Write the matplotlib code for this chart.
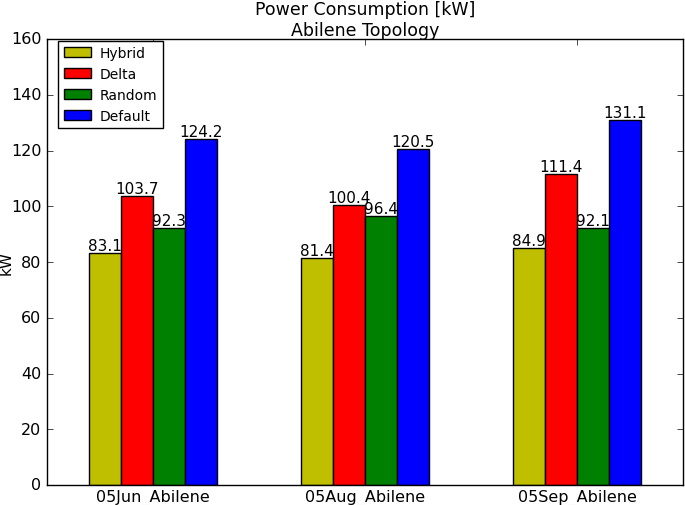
import matplotlib
matplotlib.use("Agg")
import matplotlib.pyplot as plt
import numpy as np

categories = ["05Jun_Abilene", "05Aug_Abilene", "05Sep_Abilene"]
series_names = ["Hybrid", "Delta", "Random", "Default"]
hybrid = [83.1, 81.4, 84.9]
delta = [103.7, 100.4, 111.4]
random_ = [92.3, 96.4, 92.1]
default = [124.2, 120.5, 131.1]
colors = ["#bfbf00", "#ff0000", "#008000", "#0000ff"]

plt.style.use("classic")
plt.rcParams["font.family"] = ["DejaVu Sans"]

fig = plt.figure(figsize=(6.85, 5.06), dpi=100)
ax = fig.add_axes([47/685, 20/506, 636/685, 446/506])

x = np.arange(len(categories))
w = 0.15
data = [hybrid, delta, random_, default]
for i, (name, vals, c) in enumerate(zip(series_names, data, colors)):
    pos = x + (i - 1.5) * w
    bars = ax.bar(pos, vals, w, color=c, edgecolor="black", label=name)
    for b, v in zip(bars, vals):
        ax.text(b.get_x() + b.get_width() / 2, v, f"{v:.1f}", ha="center", va="bottom", fontsize=11)

ax.set_xlim(-0.5, 2.5)
ax.set_ylim(0, 160)
ax.set_xticks(x)
ax.set_xticklabels(categories, fontsize=11.5)
ax.tick_params(axis="x", pad=3)
ax.tick_params(axis="y", labelsize=11.5)
ax.set_ylabel("kW", fontsize=11)
ax.yaxis.set_label_coords(-33/636, 0.5)
ax.set_title("Power Consumption [kW]\nAbilene Topology", fontsize=12.5, pad=3)
ax.legend(loc="upper left", fontsize=10, bbox_to_anchor=(11/636, 1 - 1.5/446),
          borderaxespad=0, handlelength=2.0, handletextpad=0.6)

fig.savefig("out.png", dpi=100)
